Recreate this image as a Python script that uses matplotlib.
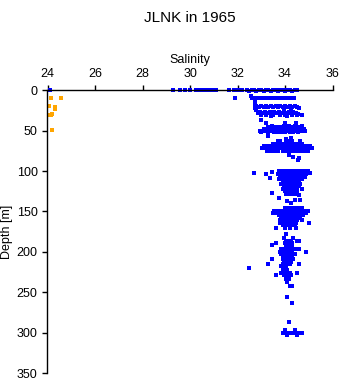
import numpy as np
import matplotlib
matplotlib.use('Agg')
import matplotlib.pyplot as plt

plt.rcParams['font.family'] = ['Liberation Sans', 'DejaVu Sans']

# (salinity, depth) pairs, grouped by sampling depth
orange_pts = [(24.15, 10), (24.55, 10), (24.05, 20), (24.3, 21), (24.32, 23),
              (24.15, 30), (24.2, 29), (24.12, 31), (24.2, 49)]

surface = [(24.1, 0), (29.27, 0), (29.56, 0), (29.81, 0), (29.98, 0), (30.25, 0),
           (30.37, 0), (30.56, 0), (30.62, 0), (30.76, 0), (30.92, 0), (31.02, 0),
           (31.1, 0), (31.65, 0), (31.84, 0), (31.94, 0), (32.04, 0), (32.14, 0),
           (32.2, 0), (32.4, 0), (32.5, 1), (32.6, 0), (32.7, 0), (32.8, 1), (32.9, 0),
           (33.0, 0), (33.1, 1), (33.2, 0), (33.3, 0), (33.4, 1), (33.5, 0), (33.6, 0),
           (33.7, 1), (33.8, 0), (33.9, 0), (34.0, 1), (34.1, 0), (34.2, 0), (34.3, 1),
           (34.4, 0), (34.5, 0)]

band_10 = [(31.9, 9), (32.55, 7), (32.62, 9), (32.7, 9), (32.8, 10), (32.9, 9),
           (33.0, 10), (33.08, 9), (33.18, 10), (33.3, 9), (33.4, 10), (33.5, 9),
           (33.6, 9), (33.7, 10), (33.8, 9), (33.9, 9), (34.0, 10), (34.1, 9),
           (34.2, 9), (34.3, 10), (34.38, 9), (32.72, 15)]

band_20 = [(32.72, 19), (32.8, 20), (32.9, 21), (33.0, 20), (33.1, 21), (33.2, 20),
           (33.3, 21), (33.4, 20), (33.5, 21), (33.6, 20), (33.7, 21), (33.8, 20),
           (33.9, 21), (34.0, 20), (34.1, 21), (34.2, 20), (34.3, 21), (34.4, 20),
           (34.5, 21), (34.6, 22), (32.75, 22), (33.95, 23), (34.25, 23)]

band_30 = [(32.8, 25), (32.85, 28), (32.95, 27), (33.05, 28), (33.15, 27), (33.25, 28),
           (33.35, 27), (33.45, 28), (33.55, 27), (33.65, 28), (33.75, 27), (33.85, 28),
           (33.95, 27), (34.05, 28), (34.15, 27), (34.25, 28), (34.35, 27), (34.45, 28),
           (34.55, 29), (34.7, 30), (33.0, 30), (33.2, 31), (33.5, 30), (33.8, 30),
           (34.0, 31), (34.3, 30), (34.5, 31), (33.4, 32), (34.1, 32),
           (33.0, 37), (33.2, 41), (34.0, 41), (34.45, 40)]

band_50 = [(33.45, 44), (33.95, 44), (34.05, 44), (34.15, 44), (34.4, 44), (34.7, 44),
           (33.3, 46), (33.55, 46), (33.7, 46), (33.85, 46), (33.95, 46), (34.05, 46),
           (34.2, 46), (34.35, 46), (34.5, 46), (34.65, 46),
           (33.1, 48), (33.25, 48), (33.4, 48), (33.5, 48), (33.6, 48), (33.75, 48),
           (33.9, 48), (34.0, 48), (34.1, 48), (34.25, 48), (34.4, 48), (34.55, 48), (34.8, 48),
           (32.95, 50), (33.05, 50), (33.2, 50), (33.35, 50), (33.5, 50), (33.65, 50),
           (33.8, 50), (33.9, 50), (34.05, 50), (34.15, 50), (34.3, 50), (34.45, 50),
           (34.6, 50), (34.75, 50), (34.85, 50),
           (33.0, 52), (33.3, 52), (33.55, 52), (33.7, 52), (33.85, 52), (34.0, 52),
           (34.2, 52), (34.35, 52), (34.55, 52),
           (33.3, 56), (34.05, 60), (34.25, 59)]

band_75 = [(33.7, 63), (33.8, 63), (34.05, 63), (34.2, 63), (34.3, 63), (34.65, 63),
           (33.5, 66), (33.65, 66), (33.8, 66), (33.95, 66), (34.1, 66), (34.25, 66),
           (34.4, 66), (34.55, 66), (34.7, 66),
           (33.1, 69), (33.25, 69), (33.4, 69), (33.55, 69), (33.65, 69), (33.8, 69),
           (33.9, 69), (34.0, 69), (34.1, 69), (34.2, 69), (34.35, 69), (34.5, 69),
           (34.6, 69), (34.75, 69), (34.9, 69), (35.05, 69),
           (33.05, 72), (33.2, 72), (33.35, 72), (33.5, 72), (33.6, 72), (33.75, 72),
           (33.85, 72), (34.0, 72), (34.15, 72), (34.3, 72), (34.45, 72), (34.55, 72),
           (34.7, 72), (34.85, 72), (35.0, 72), (35.15, 72),
           (33.25, 75), (33.4, 75), (33.55, 75), (33.7, 75), (33.9, 75), (34.05, 75),
           (34.2, 75), (34.35, 75), (34.5, 75), (34.65, 75), (34.8, 75), (34.95, 75),
           (34.15, 80), (34.35, 82), (34.6, 84), (34.55, 86)]

band_100 = [(32.7, 102), (33.2, 104), (33.45, 101), (33.35, 109), (33.45, 127),
            (33.75, 133), (34.6, 130),
            (33.75, 100), (33.85, 100), (34.0, 100), (34.1, 100), (34.2, 100), (34.3, 100),
            (34.4, 100), (34.5, 100), (34.6, 100), (34.7, 100), (34.8, 100), (34.95, 100),
            (33.8, 102), (33.9, 102), (34.0, 102), (34.15, 102), (34.25, 102), (34.35, 102),
            (34.45, 102), (34.55, 102), (34.7, 102), (34.85, 102), (35.05, 102),
            (33.7, 104), (33.85, 104), (34.0, 104), (34.1, 104), (34.2, 104), (34.35, 104),
            (34.5, 104), (34.65, 104), (34.75, 104), (34.9, 104),
            (33.8, 107), (33.95, 107), (34.05, 107), (34.2, 107), (34.3, 107), (34.45, 107),
            (34.6, 107), (34.7, 107), (34.85, 107),
            (33.75, 110), (33.9, 110), (34.0, 110), (34.15, 110), (34.25, 110), (34.4, 110),
            (34.55, 110), (34.7, 110),
            (33.9, 113), (34.0, 113), (34.1, 113), (34.2, 113), (34.35, 113), (34.5, 113),
            (34.6, 113),
            (33.85, 116), (34.0, 116), (34.1, 116), (34.25, 116), (34.4, 116), (34.55, 116),
            (34.65, 116),
            (33.95, 119), (34.05, 119), (34.15, 119), (34.3, 119), (34.45, 119), (34.6, 119),
            (33.9, 122), (34.05, 122), (34.2, 122), (34.3, 122), (34.4, 122), (34.5, 122),
            (34.7, 122),
            (34.0, 125), (34.1, 125), (34.2, 125), (34.35, 125), (34.5, 125),
            (34.05, 128), (34.15, 128), (34.3, 128), (34.4, 128),
            (34.1, 137), (34.4, 136), (34.65, 136), (34.25, 140)]

band_150 = [(34.0, 146), (34.15, 146), (34.3, 146), (34.45, 146), (34.6, 146), (34.7, 146),
            (33.55, 149), (33.7, 149), (33.85, 149), (34.0, 149), (34.1, 149), (34.2, 149),
            (34.3, 149), (34.4, 149), (34.55, 149), (34.7, 149), (34.85, 149), (34.95, 149),
            (33.5, 152), (33.65, 152), (33.8, 152), (33.95, 152), (34.05, 152), (34.15, 152),
            (34.25, 152), (34.35, 152), (34.5, 152), (34.65, 152), (34.8, 152), (34.9, 152),
            (33.75, 155), (33.9, 155), (34.0, 155), (34.1, 155), (34.2, 155), (34.3, 155),
            (34.45, 155), (34.6, 155), (34.75, 155),
            (33.85, 158), (33.95, 158), (34.05, 158), (34.15, 158), (34.25, 158), (34.4, 158),
            (34.55, 158), (34.65, 158),
            (33.8, 161), (33.9, 161), (34.0, 161), (34.1, 161), (34.2, 161), (34.35, 161),
            (34.5, 161), (34.7, 161),
            (33.8, 164), (33.95, 164), (34.1, 164), (34.2, 164), (34.3, 164), (34.45, 164),
            (35.0, 164),
            (33.9, 167), (34.0, 167), (34.15, 167), (34.3, 167), (34.4, 167),
            (33.6, 171), (34.0, 170), (34.2, 171), (34.45, 170), (34.05, 178),
            (33.95, 183), (34.35, 183)]

band_200 = [(34.05, 186), (34.15, 186), (34.25, 186), (34.5, 186), (34.6, 186),
            (33.6, 189), (34.0, 189), (34.1, 189), (34.2, 189), (34.3, 189),
            (33.45, 192), (34.05, 192), (34.2, 192), (34.3, 192),
            (33.85, 197), (33.95, 197), (34.05, 197), (34.15, 197), (34.25, 197),
            (34.35, 197), (34.5, 197), (34.6, 197),
            (33.8, 200), (33.9, 200), (34.0, 200), (34.1, 200), (34.2, 200), (34.3, 200),
            (34.9, 200),
            (33.85, 203), (33.95, 203), (34.05, 203), (34.15, 203), (34.25, 203), (34.4, 203),
            (33.9, 206), (34.0, 206), (34.1, 206), (34.2, 206), (34.3, 206),
            (33.45, 209), (33.9, 209), (34.0, 209), (34.1, 209), (34.2, 209), (34.35, 209),
            (33.95, 212), (34.05, 212), (34.15, 212), (34.25, 212),
            (33.3, 215), (33.9, 215), (34.0, 215), (34.1, 215), (34.2, 215), (34.6, 215),
            (33.85, 218), (33.95, 218), (34.05, 218),
            (32.5, 220), (33.9, 222), (34.0, 222), (34.1, 222),
            (33.85, 226), (34.0, 226), (34.1, 226), (34.2, 226), (34.5, 226),
            (33.6, 229), (33.95, 229), (34.1, 229), (34.25, 229),
            (34.05, 234), (34.15, 234), (34.1, 237), (34.2, 242), (34.3, 242),
            (34.1, 256), (34.3, 263)]

band_300 = [(34.15, 287), (34.0, 297), (34.4, 297),
            (33.9, 300), (34.0, 300), (34.1, 300), (34.2, 300), (34.3, 300), (34.4, 300),
            (34.5, 300), (34.6, 300), (34.7, 300), (34.1, 303), (34.5, 303)]

blue_pts = surface + band_10 + band_20 + band_30 + band_50 + band_75 + band_100 + band_150 + band_200 + band_300

sal_b, dep_b = zip(*blue_pts)
sal_o, dep_o = zip(*orange_pts)

fig = plt.figure(figsize=(3.41, 3.84), dpi=100)
ax = fig.add_axes([47.5/341, 11/384, 285/341, 282.7/384])

ax.plot(sal_b, dep_b, 's', color='#0000FF', ms=2.7, mew=0, clip_on=False)
ax.plot(sal_o, dep_o, 's', color='#FFA500', ms=2.7, mew=0, clip_on=False)

ax.set_xlim(24, 36)
ax.set_ylim(350, 0)
ax.set_xticks([24, 26, 28, 30, 32, 34, 36])
ax.set_yticks([0, 50, 100, 150, 200, 250, 300, 350])

ax.xaxis.tick_top()
ax.xaxis.set_label_position('top')
ax.spines['right'].set_visible(False)
ax.spines['bottom'].set_visible(False)
ax.spines['top'].set_linewidth(1)
ax.spines['left'].set_linewidth(1)
ax.tick_params(axis='both', length=3.6, width=1, pad=3.5, labelsize=9)

ax.set_xlabel('Salinity', fontsize=9)
ax.xaxis.set_label_coords(0.5, 1.095)
ax.set_ylabel('Depth [m]', fontsize=9)
ax.yaxis.set_label_coords(-0.12, 0.5)

fig.text(190/341, 1 - 18/384, 'JLNK in 1965', fontsize=11, ha='center', va='center')

plt.savefig('out.png', dpi=100)
